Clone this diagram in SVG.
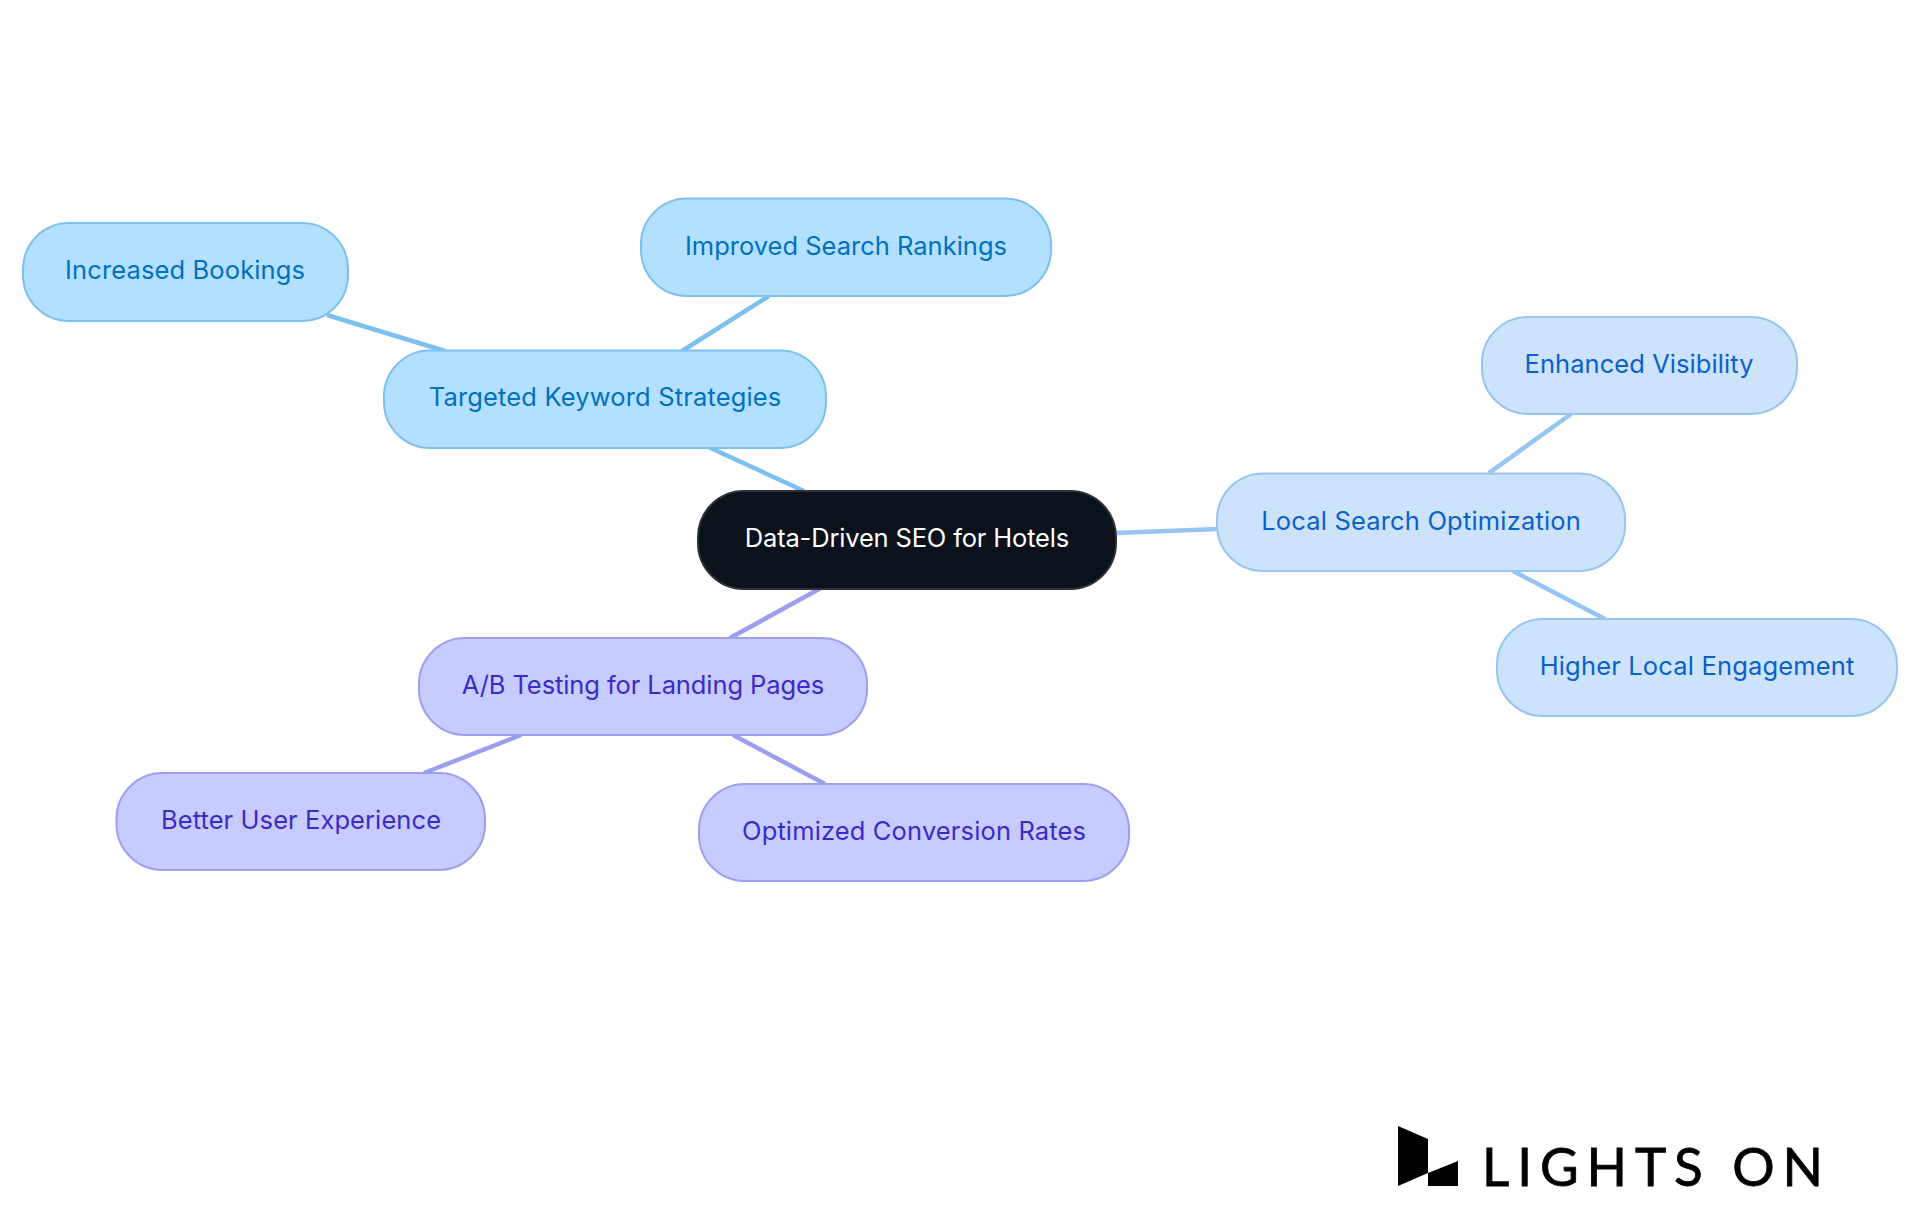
<svg xmlns="http://www.w3.org/2000/svg" width="1920" height="1215" viewBox="0 0 1920 1215">
<style>
text{font-family:"Inter","Noto Sans","Liberation Sans",sans-serif;font-size:25.5px;text-anchor:middle;dominant-baseline:central}
.n rect{stroke-width:2}
.b rect{fill:#b3e0ff;stroke:#7cc0f0}.b text{fill:#0070c0}
.c rect{fill:#cde3fb;stroke:#97c4f2}.c text{fill:#0a60cc}
.p rect{fill:#c8cbff;stroke:#9c9ff0}.p text{fill:#3a2bc8}
#connectors line{stroke-width:4.5;fill:none}
</style>
<rect width="1920" height="1215" fill="#fff"/>
<g id="connectors">
<line x1="704" y1="445" x2="804" y2="491" stroke="#7cc0f0"/>
<line x1="327" y1="315" x2="445" y2="351" stroke="#7cc0f0"/>
<line x1="769" y1="296" x2="682" y2="351" stroke="#7cc0f0"/>
<line x1="1116" y1="533" x2="1218" y2="529" stroke="#97c4f2"/>
<line x1="1571" y1="414" x2="1489" y2="473" stroke="#97c4f2"/>
<line x1="1513" y1="571" x2="1605" y2="619" stroke="#97c4f2"/>
<line x1="821" y1="588" x2="730" y2="638" stroke="#9c9ff0"/>
<line x1="521" y1="735" x2="424" y2="773" stroke="#9c9ff0"/>
<line x1="733" y1="735" x2="825" y2="784" stroke="#9c9ff0"/>
</g>
<g id="root"><rect x="698" y="491" width="418" height="98" rx="46" fill="#0b121b" stroke="#2c3138" stroke-width="2"/><text x="907" y="537" fill="#fff" textLength="324.5">Data-Driven SEO for Hotels</text></g>
<g id="n-keyword" class="n b"><rect x="384" y="350.5" width="442" height="97.5" rx="46"/><text x="605" y="396" textLength="352.6">Targeted Keyword Strategies</text></g>
<g id="n-bookings" class="n b"><rect x="23" y="223" width="325" height="98" rx="46"/><text x="185" y="269" textLength="240">Increased Bookings</text></g>
<g id="n-rankings" class="n b"><rect x="641" y="198.5" width="410" height="97.5" rx="46"/><text x="846" y="245" textLength="322">Improved Search Rankings</text></g>
<g id="n-local" class="n c"><rect x="1217" y="473.5" width="408" height="97.5" rx="46"/><text x="1421" y="520" textLength="319.6">Local Search Optimization</text></g>
<g id="n-visibility" class="n c"><rect x="1482" y="317" width="315" height="97" rx="46"/><text x="1639" y="363" textLength="229">Enhanced Visibility</text></g>
<g id="n-engagement" class="n c"><rect x="1497" y="619" width="400" height="97" rx="46"/><text x="1697" y="665" textLength="314.7">Higher Local Engagement</text></g>
<g id="n-ab" class="n p"><rect x="419" y="638" width="448" height="97" rx="46"/><text x="643" y="684" textLength="362.5">A/B Testing for Landing Pages</text></g>
<g id="n-ux" class="n p"><rect x="116.5" y="773" width="368.5" height="97" rx="46"/><text x="301" y="819" textLength="280">Better User Experience</text></g>
<g id="n-conv" class="n p"><rect x="699" y="784" width="430" height="97" rx="46"/><text x="914" y="830" textLength="344">Optimized Conversion Rates</text></g>
<g id="logo"><polygon points="1398,1126 1428,1139 1428,1173 1398,1186"/><polygon points="1428,1173 1458,1161 1458,1186 1428,1186"/>
<text x="1482" y="1186" textLength="341" style="font-family:'Lato',sans-serif;font-size:53px;text-anchor:start;dominant-baseline:alphabetic" fill="#000" stroke="#000" stroke-width="0.8">LIGHTS ON</text></g>
</svg>
